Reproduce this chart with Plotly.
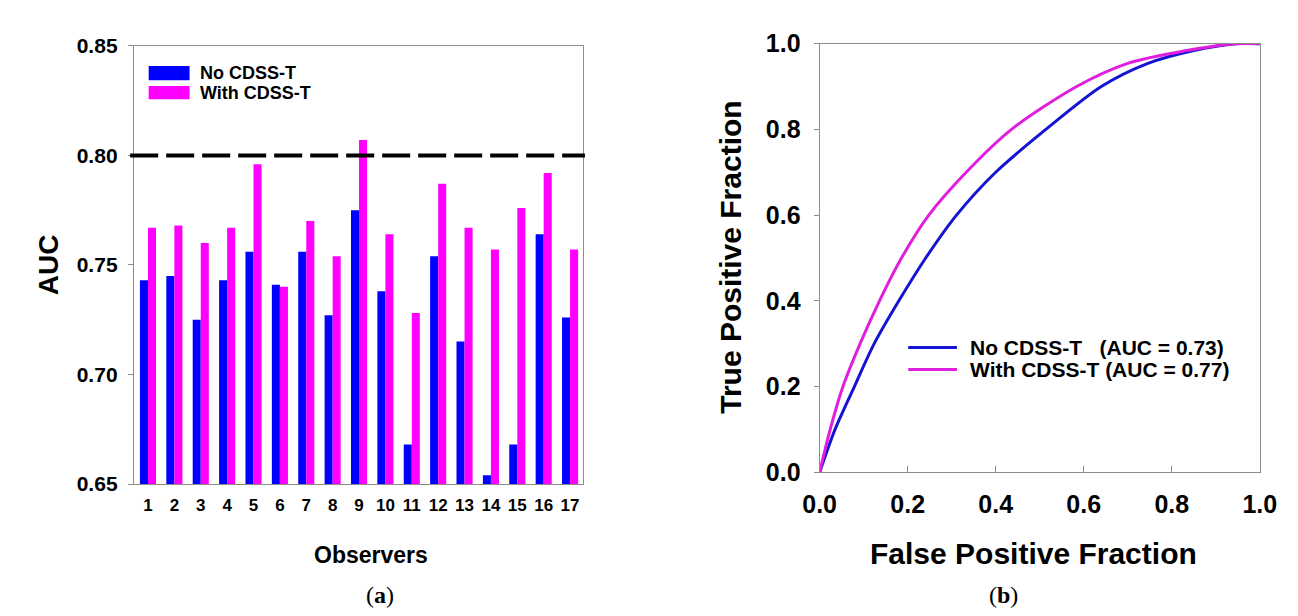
import plotly.graph_objects as go

# ---------------- data ----------------
observers = [1, 2, 3, 4, 5, 6, 7, 8, 9, 10, 11, 12, 13, 14, 15, 16, 17]
auc_no_cdss = [0.743, 0.745, 0.725, 0.743, 0.756, 0.741, 0.756, 0.727, 0.775,
               0.738, 0.668, 0.754, 0.715, 0.654, 0.668, 0.764, 0.726]
auc_with_cdss = [0.767, 0.768, 0.760, 0.767, 0.796, 0.740, 0.770, 0.754, 0.807,
                 0.764, 0.728, 0.787, 0.767, 0.757, 0.776, 0.792, 0.757]
reference_auc = 0.80

fpf_no = [0.0, 0.035, 0.079, 0.124, 0.180, 0.241, 0.311, 0.400, 0.514, 0.640, 0.746, 0.850, 0.945, 1.0]
tpf_no = [0.0, 0.100, 0.200, 0.300, 0.400, 0.500, 0.600, 0.700, 0.800, 0.900, 0.954, 0.984, 1.000, 1.0]
fpf_with = [0.0, 0.024, 0.053, 0.092, 0.136, 0.186, 0.248, 0.333, 0.436, 0.584, 0.700, 0.834, 0.945, 1.0]
tpf_with = [0.0, 0.100, 0.200, 0.300, 0.400, 0.500, 0.600, 0.700, 0.800, 0.900, 0.954, 0.984, 1.000, 1.0]

y_ticks_a = [0.65, 0.70, 0.75, 0.80, 0.85]
ticks_b = [0.0, 0.2, 0.4, 0.6, 0.8, 1.0]

# ---------------- styling ----------------
W, H = 1298, 616
SANS = "Liberation Sans, Arial, sans-serif"
SERIF = "Liberation Serif, Times New Roman, serif"
BLUE_BAR = "#0000FF"
MAG_BAR = "#FF00FF"
BLUE_LINE = "#1414D2"
MAG_LINE = "#E01EE0"
AXIS_GRAY = "#8c8c8c"


def px(x):
    return x / W


def py(y):
    return (H - y) / H


fig = go.Figure()

fig.add_trace(go.Bar(x=observers, y=auc_no_cdss, name="No CDSS-T",
                     marker=dict(color=BLUE_BAR, line=dict(width=0)),
                     xaxis="x", yaxis="y", showlegend=False))
fig.add_trace(go.Bar(x=observers, y=auc_with_cdss, name="With CDSS-T",
                     marker=dict(color=MAG_BAR, line=dict(width=0)),
                     xaxis="x", yaxis="y", showlegend=False))

fig.add_trace(go.Scatter(x=fpf_no, y=tpf_no, mode="lines", name="No CDSS-T",
                         line=dict(color=BLUE_LINE, width=3, shape="spline", smoothing=0.8),
                         xaxis="x2", yaxis="y2", showlegend=False))
fig.add_trace(go.Scatter(x=fpf_with, y=tpf_with, mode="lines", name="With CDSS-T",
                         line=dict(color=MAG_LINE, width=3, shape="spline", smoothing=0.8),
                         xaxis="x2", yaxis="y2", showlegend=False))

bold = dict(family=SANS, color="black", weight="bold")

fig.update_layout(
    width=W, height=H,
    margin=dict(l=0, r=0, t=0, b=0),
    paper_bgcolor="white", plot_bgcolor="white",
    barmode="group", bargap=0.39, bargroupgap=0.0,
    xaxis=dict(domain=[px(111.7), px(573)], range=[0.461, 17.49],
               tickmode="array", tickvals=observers, ticktext=[str(o) for o in observers],
               ticks="", showgrid=False, zeroline=False,
               showline=True, linecolor=AXIS_GRAY, linewidth=1, mirror=True,
               tickfont=dict(size=17, **bold), ticklabelstandoff=6),
    yaxis=dict(domain=[py(484), py(25)], range=[0.65, 0.85],
               tickmode="array", tickvals=y_ticks_a, ticktext=[f"{v:.2f}" for v in y_ticks_a],
               ticks="outside", ticklen=5, tickcolor=AXIS_GRAY, showgrid=False, zeroline=False,
               showline=True, linecolor=AXIS_GRAY, linewidth=1, mirror=True,
               tickfont=dict(size=21, **bold), ticklabelstandoff=6),
    xaxis2=dict(domain=[px(816), px(1268)], range=[0, 1], anchor="y2",
                tickmode="array", tickvals=ticks_b, ticktext=[f"{v:.1f}" for v in ticks_b],
                ticks="inside", ticklen=6, tickcolor=AXIS_GRAY, showgrid=False, zeroline=False,
                showline=True, linecolor=AXIS_GRAY, linewidth=1, mirror=True,
                tickfont=dict(size=25, **bold), ticklabelstandoff=10),
    yaxis2=dict(domain=[py(471.7), py(22.7)], range=[0, 1], anchor="x2",
                tickmode="array", tickvals=ticks_b, ticktext=[f"{v:.1f}" for v in ticks_b],
                ticks="outside", ticklen=5, tickcolor=AXIS_GRAY, showgrid=False, zeroline=False,
                showline=True, linecolor=AXIS_GRAY, linewidth=1, mirror=True,
                tickfont=dict(size=25, **bold), ticklabelstandoff=8),
)

shapes = []
# reference dashed line at AUC = 0.80
shapes.append(dict(type="line", xref="paper", yref="y", x0=px(108), x1=px(575),
                   y0=reference_auc, y1=reference_auc,
                   line=dict(color="black", width=4, dash="28px,8px"), layer="above"))
# legend (a) swatches
shapes.append(dict(type="rect", xref="paper", yref="paper", x0=px(127), x1=px(169),
                   y0=py(61), y1=py(46), fillcolor=BLUE_BAR, line=dict(width=0)))
shapes.append(dict(type="rect", xref="paper", yref="paper", x0=px(127), x1=px(169),
                   y0=py(81), y1=py(67), fillcolor=MAG_BAR, line=dict(width=0)))
# legend (b) line samples
shapes.append(dict(type="line", xref="paper", yref="paper", x0=px(907), x1=px(957),
                   y0=py(341), y1=py(341), line=dict(color=BLUE_LINE, width=3)))
shapes.append(dict(type="line", xref="paper", yref="paper", x0=px(907), x1=px(957),
                   y0=py(364), y1=py(364), line=dict(color=MAG_LINE, width=3)))
fig.update_layout(shapes=shapes)

NB = "\u00a0"
ann = [
    dict(text="No CDSS-T", x=px(178), y=py(53.5), xanchor="left", yanchor="middle",
         font=dict(size=18, **bold)),
    dict(text="With CDSS-T", x=px(178), y=py(74), xanchor="left", yanchor="middle",
         font=dict(size=18, **bold)),
    dict(text=f"No CDSS-T{NB}{NB}{NB}(AUC = 0.73)", x=px(968), y=py(341), xanchor="left",
         yanchor="middle", font=dict(size=21, **bold)),
    dict(text="With CDSS-T (AUC = 0.77)", x=px(968), y=py(364), xanchor="left",
         yanchor="middle", font=dict(size=21, **bold)),
    dict(text="AUC", x=px(25), y=py(254.5), textangle=-90, xanchor="center", yanchor="middle",
         font=dict(size=28, **bold)),
    dict(text="Observers", x=px(355), y=py(558), xanchor="center", yanchor="middle",
         font=dict(size=23, **bold)),
    dict(text="True Positive Fraction", x=px(725), y=py(247), textangle=-90,
         xanchor="center", yanchor="middle", font=dict(size=30, **bold)),
    dict(text="False Positive Fraction", x=px(1036), y=py(557), xanchor="center",
         yanchor="middle", font=dict(size=30, **bold)),
    dict(text="(<b>a</b>)", x=px(365), y=py(600), xanchor="center", yanchor="middle",
         font=dict(size=24, family=SERIF, color="black")),
    dict(text="(<b>b</b>)", x=px(1005), y=py(600), xanchor="center", yanchor="middle",
         font=dict(size=24, family=SERIF, color="black")),
]
for a in ann:
    a.update(xref="paper", yref="paper", showarrow=False)
fig.update_layout(annotations=ann)

fig.write_html("out.html")
